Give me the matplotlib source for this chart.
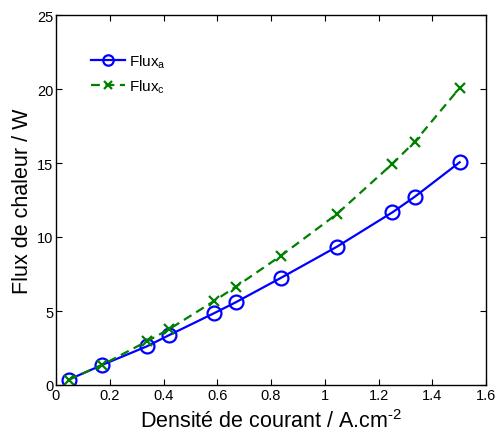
import matplotlib
matplotlib.use('Agg')
import matplotlib.pyplot as plt
from matplotlib.ticker import FixedLocator, FixedFormatter

plt.rcParams['font.family'] = ['Liberation Sans', 'DejaVu Sans']
plt.rcParams['mathtext.fontset'] = 'custom'
plt.rcParams['mathtext.rm'] = 'Liberation Sans'
plt.rcParams['mathtext.it'] = 'Liberation Sans'

# current density (A.cm-2)
densite = [0.047, 0.171, 0.338, 0.422, 0.587, 0.669, 0.836, 1.045, 1.252, 1.335, 1.502]
# heat flux (W)
flux_a = [0.36, 1.35, 2.61, 3.38, 4.84, 5.59, 7.23, 9.34, 11.67, 12.72, 15.05]
flux_c = [0.36, 1.35, 2.95, 3.78, 5.66, 6.64, 8.72, 11.55, 14.95, 16.44, 20.07]

x_ticks = [0, 0.2, 0.4, 0.6, 0.8, 1.0, 1.2, 1.4, 1.6]
x_labels = ['0', '0.2', '0.4', '0.6', '0.8', '1', '1.2', '1.4', '1.6']
y_ticks = [0, 5, 10, 15, 20, 25]

fig = plt.figure(figsize=(4.95, 4.35), dpi=100)
ax = fig.add_axes([56 / 495, 49 / 435, 430 / 495, 370 / 435])

ax.plot(densite, flux_a, color='#0000ff', linestyle='-', linewidth=1.6,
        marker='o', markersize=10, markerfacecolor='none',
        markeredgewidth=1.6, label=r'Flux$_{\mathrm{a}}$')
ax.plot(densite, flux_c, color='#008000', linestyle='--', linewidth=1.6,
        marker='x', markersize=7, markeredgewidth=1.6,
        label=r'Flux$_{\mathrm{c}}$', dashes=(4, 2.5))

ax.set_xlim(0, 1.6)
ax.set_ylim(0, 25)
ax.xaxis.set_major_locator(FixedLocator(x_ticks))
ax.xaxis.set_major_formatter(FixedFormatter(x_labels))
ax.set_yticks(y_ticks)
ax.tick_params(direction='in', top=True, right=True, labelsize=10.5,
               length=4, width=0.8, pad=2)
for s in ax.spines.values():
    s.set_linewidth(1.0)

ax.set_xlabel(r'Densité de courant / A.cm$^{\text{-}\mathrm{2}}$', fontsize=15.5, labelpad=5)
ax.set_ylabel('Flux de chaleur / W', fontsize=15.5, labelpad=3)

ax.legend(loc='upper left', bbox_to_anchor=(0.05, 0.935), frameon=False,
          fontsize=11, handlelength=2.2, handletextpad=0.3,
          labelspacing=0.5, markerscale=0.75)

fig.savefig('out.png', dpi=100)
